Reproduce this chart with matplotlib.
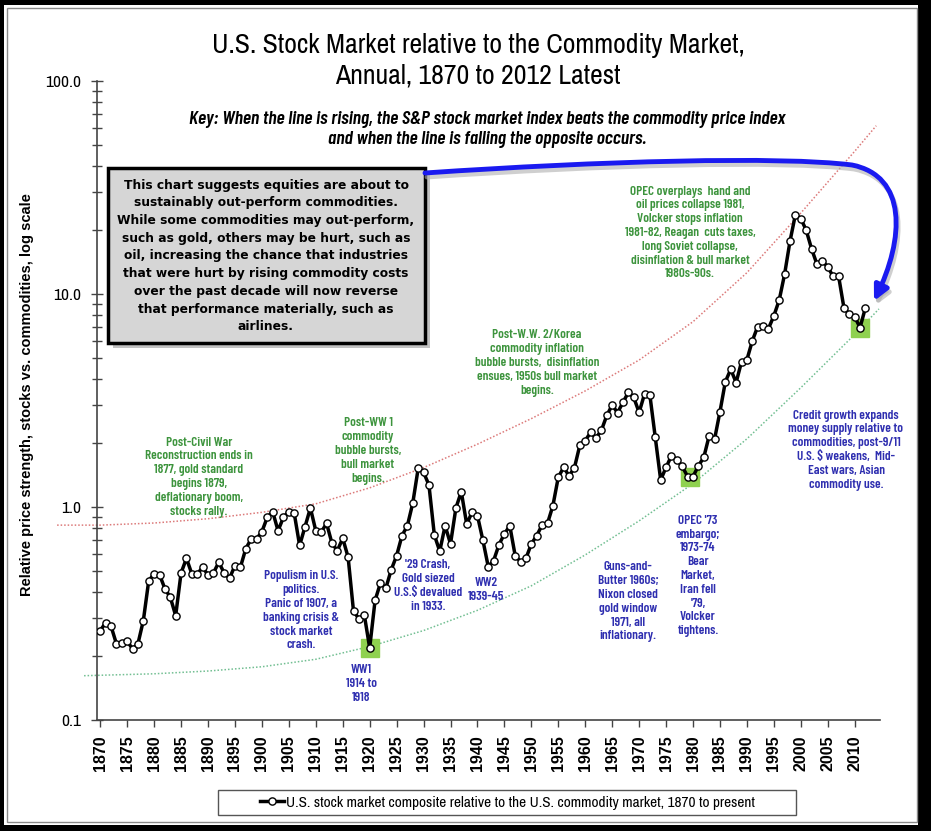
import matplotlib
matplotlib.use('Agg')
import matplotlib.pyplot as plt
import matplotlib.ticker as mtick
from matplotlib.patches import Rectangle, FancyArrowPatch
from matplotlib.path import Path

years = list(range(1870, 2013))
ratio = [0.263, 0.286, 0.276, 0.228, 0.229, 0.234, 0.216, 0.228, 0.293, 0.451,
         0.485, 0.482, 0.413, 0.377, 0.309, 0.490, 0.574, 0.485, 0.485, 0.521,
         0.480, 0.490, 0.550, 0.490, 0.463, 0.531, 0.520, 0.636, 0.708, 0.708,
         0.766, 0.895, 0.950, 0.774, 0.895, 0.950, 0.934, 0.660, 0.809, 0.989,
         0.774, 0.761, 0.838, 0.676, 0.624, 0.713, 0.581, 0.324, 0.299, 0.312,
         0.218, 0.364, 0.440, 0.416, 0.507, 0.591, 0.734, 0.817, 1.044, 1.518,
         1.455, 1.268, 0.739, 0.620, 0.817, 0.671, 0.989, 1.180, 0.832, 0.944,
         0.910, 0.700, 0.525, 0.560, 0.666, 0.747, 0.817, 0.591, 0.554, 0.574,
         0.671, 0.734, 0.823, 0.838, 1.014, 1.380, 1.535, 1.400, 1.530, 1.950,
         2.050, 2.240, 2.110, 2.290, 2.690, 3.010, 2.770, 3.100, 3.450, 3.270,
         2.780, 3.390, 3.350, 2.120, 1.340, 1.535, 1.740, 1.670, 1.550, 1.390,
         1.390, 1.560, 1.710, 2.160, 2.080, 2.800, 3.870, 4.430, 3.840, 4.800,
         4.910, 6.020, 7.030, 7.080, 6.880, 7.890, 9.370, 12.40, 17.70, 23.60,
         22.60, 19.95, 16.30, 13.80, 14.30, 13.40, 12.10, 12.20, 8.630, 8.030,
         7.800, 6.960, 8.630]

# hand drawn envelopes
upper_years = [1862, 1870, 1880, 1890, 1900, 1910, 1920, 1930, 1940, 1950,
               1960, 1970, 1980, 1990, 2000, 2010, 2014]
upper_vals = [0.822, 0.822, 0.841, 0.881, 0.944, 1.035, 1.230, 1.531, 1.972, 2.600,
              3.508, 4.898, 7.413, 12.59, 23.99, 46.77, 61.66]
lower_years = [1867, 1870, 1880, 1890, 1900, 1910, 1920, 1930, 1940, 1950,
               1960, 1970, 1980, 1990, 2000, 2010, 2014.5]
lower_vals = [0.1614, 0.1622, 0.1648, 0.1698, 0.1778, 0.1928, 0.2213, 0.2630, 0.3273, 0.4266,
              0.5957, 0.861, 1.288, 2.089, 3.631, 6.457, 8.511]

# highlighted lows
low_years = [1920, 1979.5, 2011]
low_vals = [0.218, 1.39, 6.96]

tick_years = list(range(1870, 2011, 5))

NARROW = ['Archivo Narrow', 'Liberation Sans']
COND = ['Barlow Condensed', 'Liberation Sans']
ARIAL = ['Liberation Sans', 'DejaVu Sans']

W, H = 931, 831
fig = plt.figure(figsize=(W / 100, H / 100), dpi=100, facecolor='black')


def fx(x):
    return x / W


def fy(y):
    return 1 - y / H


# white page inside the black frame
fig.patches.append(Rectangle((fx(4), fy(825)), fx(918 - 4), (825 - 5) / H,
                             transform=fig.transFigure, facecolor='white',
                             edgecolor='none', zorder=-3))
fig.patches.append(Rectangle((fx(7), fy(822)), fx(917 - 7), (822 - 8) / H,
                             transform=fig.transFigure, facecolor='none',
                             edgecolor='#8a8a8a', lw=1.0, zorder=-2))
# legend frame
fig.patches.append(Rectangle((fx(218), fy(815)), fx(796 - 218), 25 / H, transform=fig.transFigure,
                             facecolor='white', edgecolor='#555555', lw=1.0, zorder=-1))

ax = fig.add_axes([fx(97), fy(720), fx(880 - 97), (720 - 81) / H])
ax.set_facecolor('none')
ax.set_yscale('log')
ax.set_ylim(0.1, 100)
ax.set_xlim(1869.4, 2014.7)

ax.plot(upper_years, upper_vals, linestyle=(0, (1, 1.3)), color='#dc7a7a', lw=1.1, clip_on=False, zorder=2)
ax.plot(lower_years, lower_vals, linestyle=(0, (1, 1.3)), color='#72bf92', lw=1.1, clip_on=False, zorder=2)
ax.plot(low_years, low_vals, linestyle='none', marker='s', ms=12.5, color='#8fd14f', zorder=3)
ax.plot(years, ratio, '-o', color='black', lw=2.5, ms=5.2, mfc='white', mec='black', mew=1.0,
        zorder=4, label='U.S. stock market composite relative to the U.S. commodity market, 1870 to present')

for s in ['top', 'right']:
    ax.spines[s].set_visible(False)
for s in ['left', 'bottom']:
    ax.spines[s].set_color('#444444')
    ax.spines[s].set_linewidth(1.2)

ax.yaxis.set_major_locator(mtick.FixedLocator([0.1, 1, 10, 100]))
ax.yaxis.set_major_formatter(mtick.FixedFormatter(['0.1', '1.0', '10.0', '100.0']))
ax.yaxis.set_minor_locator(mtick.LogLocator(base=10, subs=range(2, 10)))
ax.yaxis.set_minor_formatter(mtick.NullFormatter())
ax.tick_params(axis='y', which='major', direction='inout', length=9, width=1.0, color='#444444', pad=7)
ax.tick_params(axis='y', which='minor', direction='inout', length=7, width=1.0, color='#444444')
for lab in ax.get_yticklabels():
    lab.set_fontfamily(NARROW)
    lab.set_fontsize(12.5)

ax.set_xticks(tick_years)
ax.set_xticklabels([str(y) for y in tick_years], rotation=90, fontfamily=ARIAL,
                   fontweight='bold', fontsize=11.5)
ax.tick_params(axis='x', direction='out', length=5, width=1.0, color='#444444', pad=6)

fig.text(fx(27), fy(395), 'Relative price strength, stocks vs. commodities, log scale',
         rotation=90, ha='center', va='center', fontfamily=ARIAL, fontweight='bold', fontsize=10.5)

# titles
fig.text(fx(478), fy(45), 'U.S. Stock Market relative to the Commodity Market,',
         ha='center', va='center', fontfamily=NARROW, fontsize=20)
fig.text(fx(478), fy(76), 'Annual, 1870 to 2012 Latest',
         ha='center', va='center', fontfamily=NARROW, fontsize=20)
fig.text(fx(487), fy(119), 'Key: When the line is rising, the S&P stock market index beats the commodity price index',
         ha='center', va='center', fontfamily=COND, fontsize=14, fontweight='semibold', style='italic')
fig.text(fx(487), fy(139), 'and when the line is falling the opposite occurs.',
         ha='center', va='center', fontfamily=COND, fontsize=14, fontweight='semibold', style='italic')

# grey call-out box
fig.patches.append(Rectangle((fx(113), fy(348)), fx(317), 175 / H, transform=fig.transFigure,
                             facecolor='#9a9a9a', edgecolor='none', alpha=0.6, zorder=5))
fig.patches.append(Rectangle((fx(108), fy(343)), fx(317), 175 / H, transform=fig.transFigure,
                             facecolor='#d6d6d6', edgecolor='black', lw=2.5, zorder=6))
box_text = ('This chart suggests equities are about to\n'
            'sustainably out-perform commodities.\n'
            'While some commodities may out-perform,\n'
            'such as gold, others may be hurt, such as\n'
            'oil, increasing the chance that industries\n'
            'that were hurt by rising commodity costs\n'
            'over the past decade will now reverse\n'
            'that performance materially, such as\n'
            'airlines.')
fig.text(fx(266), fy(256), box_text, ha='center', va='center', fontfamily='DejaVu Sans',
         fontweight='bold', fontsize=8.8, linespacing=1.47, zorder=7)

# blue arrow from the box to the latest point
pts = [(425, 173), (600, 161), (780, 156), (852, 165), (907, 176), (905, 238), (874, 301)]
codes = [Path.MOVETO] + [Path.CURVE4] * 6
shadow = Path([(fx(x + 2), fy(y + 4)) for x, y in pts], codes)
arrow = Path([(fx(x), fy(y)) for x, y in pts], codes)
fig.patches.append(FancyArrowPatch(path=shadow, transform=fig.transFigure, arrowstyle='-|>',
                                   mutation_scale=22, lw=3.5, color='#b0b0b0', alpha=0.6, zorder=7))
fig.patches.append(FancyArrowPatch(path=arrow, transform=fig.transFigure, arrowstyle='-|>',
                                   mutation_scale=22, lw=3.5, color='#1a1af0', zorder=8))

GREEN = '#3d943d'
BLUE = '#2f2fb0'
notes = [
    (199, 477, GREEN, 'Post-Civil War\nReconstruction ends in\n1877, gold standard\nbegins 1879,\ndeflationary boom,\nstocks rally.'),
    (368, 451, GREEN, 'Post-WW 1\ncommodity\nbubble bursts,\nbull market\nbegins.'),
    (537, 363, GREEN, 'Post-W.W. 2/Korea\ncommodity inflation\nbubble bursts,  disinflation\nensues, 1950s bull market\nbegins.'),
    (690, 233, GREEN, 'OPEC overplays  hand and\noil prices collapse 1981,\nVolcker stops inflation\n1981-82, Reagan  cuts taxes,\nlong Soviet collapse,\ndisinflation & bull market\n1980s-90s.'),
    (301, 611, BLUE, 'Populism in U.S.\npolitics.\nPanic of 1907, a\nbanking crisis &\nstock market\ncrash.'),
    (361, 684, BLUE, 'WW1\n1914 to\n1918'),
    (428, 586, BLUE, "'29 Crash,\nGold siezed\nU.S.$ devalued\nin 1933."),
    (486, 590, BLUE, 'WW2\n1939-45'),
    (628, 602, BLUE, 'Guns-and-\nButter 1960s;\nNixon closed\ngold window\n1971, all\ninflationary.'),
    (698, 576, BLUE, "OPEC '73\nembargo;\n1973-74\nBear\nMarket,\nIran fell\n'79,\nVolcker\ntightens."),
    (846, 450, BLUE, 'Credit growth expands\nmoney supply relative to\ncommodities, post-9/11\nU.S. $ weakens,  Mid-\nEast wars, Asian\ncommodity use.'),
]
for x, y, c, t in notes:
    fig.text(fx(x), fy(y), t, ha='center', va='center', color=c, fontfamily=COND,
             fontweight='semibold', fontsize=9.5, linespacing=1.2, zorder=6)

# legend
leg = ax.legend(loc='center', bbox_to_anchor=(fx(507), fy(802.5)), bbox_transform=fig.transFigure,
                frameon=False, handlelength=1.6, handletextpad=0.1, borderpad=0,
                prop={'family': NARROW, 'size': 11})

fig.savefig('out.png', dpi=100, facecolor='black')
